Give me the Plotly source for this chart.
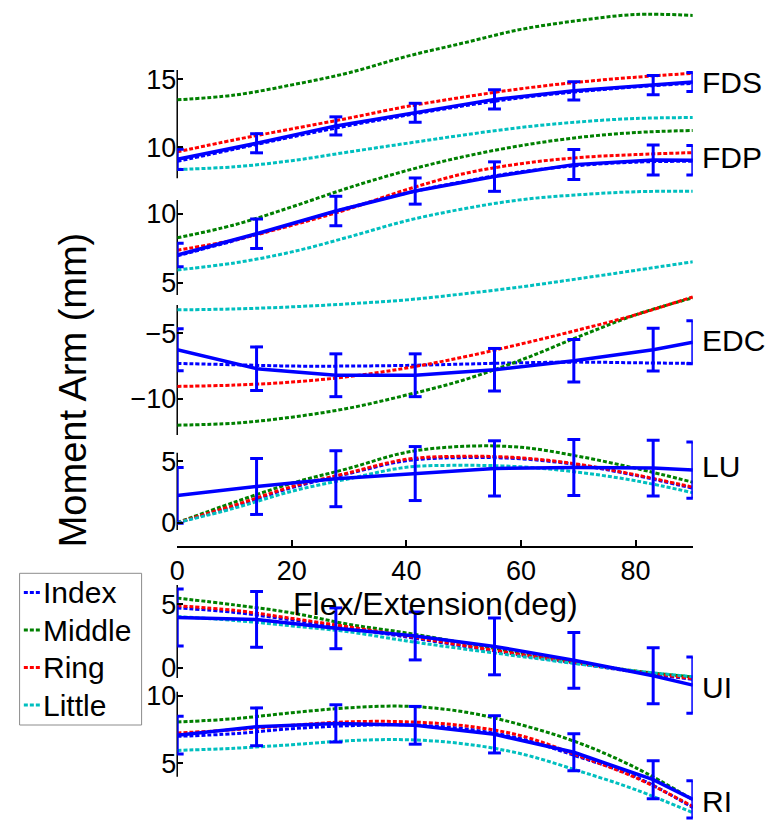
import plotly.graph_objects as go

# Joint angle samples (deg): smooth model curves and measured points
deg_curve = [0, 10, 20, 30, 40, 50, 60, 70, 80, 90]
deg_meas = [0, 13.85, 27.69, 41.54, 55.38, 69.23, 83.08, 90]

fingers = ["Index", "Middle", "Ring", "Little"]
muscles = ["FDS", "FDP", "EDC", "LU", "UI", "RI"]

# FDS
fds_index = [8.95, 9.85, 10.75, 11.6, 12.35, 13.05, 13.65, 14.1, 14.45, 14.72]
fds_middle = [13.5, 13.85, 14.6, 15.5, 16.7, 17.7, 18.7, 19.35, 19.8, 19.73]
fds_ring = [9.65, 10.54, 11.35, 12.15, 13.0, 13.7, 14.32, 14.8, 15.17, 15.46]
fds_little = [8.35, 8.55, 9.0, 9.65, 10.28, 10.9, 11.46, 11.86, 12.12, 12.19]
fds_mean = [9.1, 10.29, 11.57, 12.54, 13.53, 14.16, 14.58, 14.82]
fds_sd = [0.75, 0.71, 0.67, 0.7, 0.71, 0.67, 0.71, 0.7]

# FDP
fdp_index = [6.95, 8.05, 9.25, 10.45, 11.5, 12.35, 13.05, 13.5, 13.75, 13.82]
fdp_middle = [8.25, 9.2, 10.5, 11.9, 13.13, 14.15, 14.95, 15.54, 15.9, 16.05]
fdp_ring = [7.35, 8.1, 9.16, 10.36, 11.75, 12.91, 13.64, 14.08, 14.3, 14.44]
fdp_little = [5.92, 6.43, 7.23, 8.32, 9.49, 10.36, 11.02, 11.38, 11.6, 11.64]
fdp_mean = [7.0, 8.55, 10.2, 11.65, 12.7, 13.57, 13.9, 13.88]
fdp_sd = [0.85, 1.07, 1.07, 0.95, 1.07, 1.09, 1.09, 1.07]

# EDC
edc_index = [-7.3, -7.4, -7.5, -7.5, -7.45, -7.35, -7.25, -7.2, -7.25, -7.3]
edc_middle = [-12.0, -11.85, -11.39, -10.7, -9.71, -8.56, -7.04, -5.28, -3.6, -2.3]
edc_ring = [-9.05, -8.95, -8.72, -8.3, -7.65, -6.81, -5.82, -4.75, -3.6, -2.23]
edc_little = [-3.22, -3.15, -2.99, -2.76, -2.46, -2.0, -1.47, -0.85, -0.21, 0.44]
edc_mean = [-6.25, -7.7, -8.2, -8.2, -7.78, -7.1, -6.25, -5.68]
edc_sd = [1.6, 1.66, 1.63, 1.63, 1.62, 1.62, 1.63, 1.64]

# LU
lu_index = [0.0, 1.35, 2.85, 4.0, 5.05, 5.3, 5.2, 4.7, 3.85, 2.8]
lu_middle = [0.0, 1.67, 3.21, 4.43, 5.73, 6.22, 6.14, 5.41, 4.43, 3.29]
lu_ring = [0.0, 1.42, 2.93, 4.07, 5.16, 5.41, 5.28, 4.76, 3.9, 2.89]
lu_little = [0.0, 1.18, 2.56, 3.58, 4.51, 4.67, 4.55, 4.11, 3.41, 2.44]
lu_mean = [2.22, 2.95, 3.58, 4.0, 4.42, 4.5, 4.45, 4.28]
lu_sd = [2.28, 2.28, 2.28, 2.2, 2.25, 2.28, 2.27, 2.3]

# UI
ui_index = [4.7, 4.35, 3.75, 3.1, 2.42, 1.7, 1.0, 0.33, -0.33, -0.9]
ui_middle = [5.47, 4.94, 4.31, 3.41, 2.74, 1.95, 1.17, 0.42, -0.25, -0.72]
ui_ring = [4.87, 4.51, 3.88, 3.21, 2.5, 1.76, 1.05, 0.38, -0.29, -0.84]
ui_little = [4.02, 3.72, 3.29, 2.82, 2.11, 1.48, 0.89, 0.3, -0.25, -0.7]
ui_mean = [3.95, 3.8, 3.1, 2.5, 1.68, 0.59, -0.62, -1.36]
ui_sd = [2.23, 2.19, 1.6, 1.88, 2.23, 2.19, 2.2, 2.2]

# RI
ri_index = [6.99, 7.19, 7.56, 7.78, 7.85, 7.56, 6.81, 5.48, 4.0, 1.7]
ri_middle = [8.05, 8.3, 8.74, 9.11, 9.22, 8.81, 7.85, 6.52, 4.67, 2.3]
ri_ring = [7.24, 7.48, 7.81, 8.07, 8.07, 7.78, 7.04, 5.56, 3.93, 1.8]
ri_little = [5.95, 6.11, 6.37, 6.67, 6.74, 6.44, 5.7, 4.44, 3.04, 1.33]
ri_mean = [7.08, 7.7, 7.95, 7.81, 7.14, 5.81, 3.78, 2.32]
ri_sd = [1.4, 1.4, 1.38, 1.4, 1.38, 1.37, 1.41, 1.38]

# Visible y-limits and tick values of each stacked panel
ylims = [[7.7, 15.7], [4.1, 11.0], [-12.75, -2.85], [-0.6, 5.7], [-0.8, 6.5], [4.0, 10.3]]
yticks = [[10, 15], [5, 10], [-10, -5], [0, 5], [0, 5], [5, 10]]

model = [
    [fds_index, fds_middle, fds_ring, fds_little],
    [fdp_index, fdp_middle, fdp_ring, fdp_little],
    [edc_index, edc_middle, edc_ring, edc_little],
    [lu_index, lu_middle, lu_ring, lu_little],
    [ui_index, ui_middle, ui_ring, ui_little],
    [ri_index, ri_middle, ri_ring, ri_little],
]
measured = [
    (fds_mean, fds_sd), (fdp_mean, fdp_sd), (edc_mean, edc_sd),
    (lu_mean, lu_sd), (ui_mean, ui_sd), (ri_mean, ri_sd),
]

colors = ["#0000FF", "#008000", "#FF0000", "#00BFBF"]
DASH = "4px,2px"
FONT = "Liberation Sans, Arial, sans-serif"

# ---- page geometry (pixels) ----
W, H = 771, 821
X0, X1 = 171, 692                     # left / right of the plotting area
X_RANGE = [0, 90]
panel_px = [(70, 178.3), (200, 295), (305, 435), (452.7, 530), (585, 678), (691.7, 776.7)]
label_px = [82.5, 157.5, 340, 466.7, 687.5, 801]
XAXIS_PX = 546.7
CAP_PX = 6.5                          # half width of the error-bar caps
cap_deg = CAP_PX * (X_RANGE[1] - X_RANGE[0]) / (X1 - X0)


def px_x(p):
    return p / W


def px_y(p):
    return 1 - p / H


def errorbar_path(xs, means, sds):
    """Vertical bars with end caps as one broken polyline (clipped by the plot area)."""
    bx, by = [], []
    for x, m, s in zip(xs, means, sds):
        lo, hi = m - s, m + s
        bx += [x, x, None, x - cap_deg, x + cap_deg, None, x - cap_deg, x + cap_deg, None]
        by += [lo, hi, None, hi, hi, None, lo, lo, None]
    return bx, by


fig = go.Figure()
layout_axes = {}
shapes = []
annotations = []

for i, name in enumerate(muscles):
    ax = "y" if i == 0 else f"y{i + 1}"
    lo, hi = ylims[i]
    top, bot = panel_px[i]
    scale = (bot - top) / (hi - lo)
    rng = [lo - (H - bot) / scale, hi + top / scale]

    for j, finger in enumerate(fingers):
        fig.add_trace(go.Scatter(
            x=deg_curve, y=model[i][j], mode="lines", yaxis=ax,
            line=dict(color=colors[j], width=3, dash=DASH, shape="spline", smoothing=1),
            name=finger, showlegend=False, hoverinfo="skip",
        ))
    mean, sd = measured[i]
    fig.add_trace(go.Scatter(
        x=deg_meas, y=mean, mode="lines", yaxis=ax,
        line=dict(color="#0000FF", width=3.5),
        name=name + " measured", showlegend=False, hoverinfo="skip",
    ))
    ex, ey = errorbar_path(deg_meas, mean, sd)
    fig.add_trace(go.Scatter(
        x=ex, y=ey, mode="lines", yaxis=ax, connectgaps=False,
        line=dict(color="#0000FF", width=3),
        name=name + " SD", showlegend=False, hoverinfo="skip",
    ))

    axis = dict(
        domain=[0, 1], range=rng, anchor="x",
        showline=False, showgrid=False, zeroline=False,
        tickvals=yticks[i], ticks="inside", ticklen=6, tickwidth=1.5, tickcolor="black",
        tickfont=dict(family=FONT, size=27, color="black"),
        side="left",
    )
    if i > 0:
        axis["overlaying"] = "y"
    layout_axes["yaxis" if i == 0 else f"yaxis{i + 1}"] = axis

    # visible y-axis segment of this panel
    shapes.append(dict(type="line", xref="paper", yref=ax,
                       x0=px_x(X0), x1=px_x(X0), y0=lo, y1=hi,
                       line=dict(color="black", width=1.5), layer="below"))
    annotations.append(dict(text=name, xref="paper", yref="paper",
                            x=px_x(699), y=px_y(label_px[i]),
                            xanchor="left", yanchor="middle", showarrow=False,
                            font=dict(family=FONT, size=30, color="black")))

# axis titles
annotations.append(dict(text="Flex/Extension(deg)", xref="paper", yref="paper",
                        x=px_x((X0 + X1) / 2), y=px_y(604), xanchor="center", yanchor="middle",
                        showarrow=False, font=dict(family=FONT, size=32, color="black")))
annotations.append(dict(text="Moment Arm (mm)", xref="paper", yref="paper",
                        x=px_x(66), y=px_y(390), xanchor="center", yanchor="middle",
                        textangle=-90, showarrow=False,
                        font=dict(family=FONT, size=38, color="black")))

# legend box
leg_left, leg_top, leg_right, leg_bot = 11.7, 573.3, 135, 725
shapes.append(dict(type="rect", xref="paper", yref="paper",
                   x0=px_x(leg_left), x1=px_x(leg_right), y0=px_y(leg_bot), y1=px_y(leg_top),
                   line=dict(color="#8c8c8c", width=1), fillcolor="white", layer="above"))
leg_rows = [592.5, 630, 667.5, 705]
for j, finger in enumerate(fingers):
    yy = px_y(leg_rows[j])
    shapes.append(dict(type="line", xref="paper", yref="paper",
                       x0=px_x(16), x1=px_x(33), y0=yy, y1=yy,
                       line=dict(color=colors[j], width=3, dash=DASH), layer="above"))
    annotations.append(dict(text=finger, xref="paper", yref="paper",
                            x=px_x(33), y=yy, xanchor="left", yanchor="middle",
                            showarrow=False, font=dict(family=FONT, size=30, color="black")))

fig.update_layout(
    width=W, height=H,
    margin=dict(l=0, r=0, t=0, b=0),
    paper_bgcolor="white", plot_bgcolor="rgba(0,0,0,0)",
    showlegend=False,
    xaxis=dict(
        domain=[px_x(X0), px_x(X1)], range=X_RANGE, anchor="free", position=px_y(XAXIS_PX),
        showline=True, linecolor="black", linewidth=1.5, mirror=False,
        showgrid=False, zeroline=False,
        tickvals=[0, 20, 40, 60, 80], ticks="inside", ticklen=6, tickwidth=1.5,
        tickcolor="black", tickfont=dict(family=FONT, size=27, color="black"),
    ),
    shapes=shapes,
    annotations=annotations,
    **layout_axes,
)

fig.write_html("out.html")
